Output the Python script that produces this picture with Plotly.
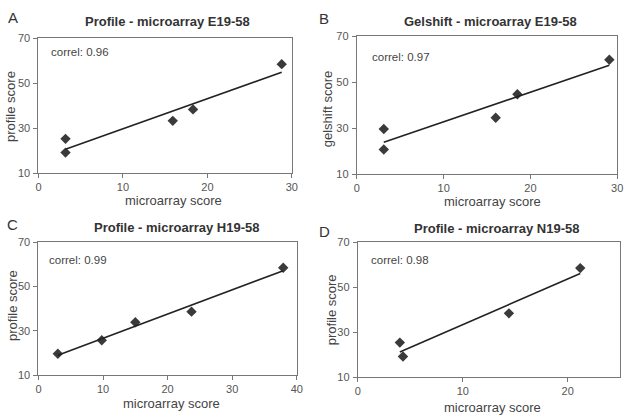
import numpy as np
import plotly.graph_objects as go

W, H = 633, 417

# ---- data ----
a_x = [3.2, 3.2, 15.9, 18.3, 28.8]
a_y = [25.2, 19.1, 33.2, 38.3, 58.4]
b_x = [3.1, 3.1, 16.0, 18.5, 29.1]
b_y = [29.6, 20.7, 34.5, 44.7, 59.7]
c_x = [3.0, 9.8, 15.0, 23.7, 37.9]
c_y = [19.6, 25.7, 33.8, 38.6, 58.4]
d_x = [4.0, 4.3, 14.4, 21.2]
d_y = [25.3, 19.1, 38.3, 58.4]

titles = ["Profile - microarray E19-58", "Gelshift - microarray E19-58",
          "Profile - microarray H19-58", "Profile - microarray N19-58"]
letters = ["A", "B", "C", "D"]
correls = ["correl: 0.96", "correl: 0.97", "correl: 0.99", "correl: 0.98"]
ytitles = ["profile score", "gelshift score", "profile score", "profile score"]
xtitle = "microarray score"
xranges = [[0, 30], [0, 30], [0, 40], [0, 25]]
xticks = [[0, 10, 20, 30], [0, 10, 20, 30], [0, 10, 20, 30, 40], [0, 10, 20]]
yticks = [10, 30, 50, 70]

# ---- layout (pixel boxes of plot areas) ----
boxes = [(36, 293, 33, 172), (359, 623, 31, 173), (36, 298, 243, 380), (360, 626, 243, 382)]
title_pos = [(167, 16), (495, 16), (176, 228), (501, 229)]
letter_pos = [(3, 12), (319, 13), (2, 225), (319, 232)]
correl_pos = [(47, 47), (372, 52), (45, 262), (371, 262)]
xt_pos = [(173, 200), (497, 201), (171, 409), (497, 413)]
yt_pos = [(7, 103), (330, 106), (9, 308), (334, 313)]

FONT = "Liberation Sans, Arial, sans-serif"
data = [(a_x, a_y), (b_x, b_y), (c_x, c_y), (d_x, d_y)]

fig = go.Figure()
ann = []
layout = {}
for i, ((xs, ys), (l, r, t, b)) in enumerate(zip(data, boxes)):
    n = "" if i == 0 else str(i + 1)
    xa, ya = "x" + n, "y" + n
    fig.add_trace(go.Scatter(x=xs, y=ys, mode="markers", xaxis=xa, yaxis=ya,
                             marker=dict(symbol="diamond", size=8, color="#3a3a3a"),
                             showlegend=False))
    k, c0 = np.polyfit(xs, ys, 1)
    lx = [min(xs), max(xs)]
    fig.add_trace(go.Scatter(x=lx, y=[k * v + c0 for v in lx], mode="lines",
                             xaxis=xa, yaxis=ya, line=dict(color="#222", width=1.6),
                             showlegend=False))
    common = dict(showline=True, linecolor="#777", linewidth=1.2, mirror=True,
                  ticks="outside", ticklen=4, tickcolor="#777", showgrid=False,
                  zeroline=False, tickfont=dict(family=FONT, size=11, color="#555"))
    layout["xaxis" + n] = dict(domain=[l / W, r / W], anchor=ya, range=xranges[i],
                               tickvals=xticks[i], ticklabelstandoff=0, **common)
    layout["yaxis" + n] = dict(domain=[1 - b / H, 1 - t / H], anchor=xa, range=[10, 70],
                               tickvals=yticks, ticklabelstandoff=1, **common)
    ann.append(dict(x=title_pos[i][0] / W, y=1 - title_pos[i][1] / H, text="<b>%s</b>" % titles[i],
                    font=dict(family=FONT, size=13, color="#333")))
    ann.append(dict(x=letter_pos[i][0] / W, y=1 - letter_pos[i][1] / H, text=letters[i], xanchor="left",
                    font=dict(family=FONT, size=15, color="#333")))
    ann.append(dict(x=correl_pos[i][0] / W, y=1 - correl_pos[i][1] / H, text=correls[i], xanchor="left",
                    font=dict(family=FONT, size=11.5, color="#444")))
    ann.append(dict(x=xt_pos[i][0] / W, y=1 - xt_pos[i][1] / H, text=xtitle,
                    font=dict(family=FONT, size=13, color="#444")))
    ann.append(dict(x=yt_pos[i][0] / W, y=1 - yt_pos[i][1] / H, text=ytitles[i], textangle=-90,
                    font=dict(family=FONT, size=13, color="#444")))

for a in ann:
    a.update(xref="paper", yref="paper", showarrow=False, yanchor="middle")
    a.setdefault("xanchor", "center")

fig.update_layout(width=W, height=H, margin=dict(l=0, r=0, t=0, b=0),
                  paper_bgcolor="white", plot_bgcolor="white",
                  annotations=ann, **layout)
fig.write_html("out.html")
